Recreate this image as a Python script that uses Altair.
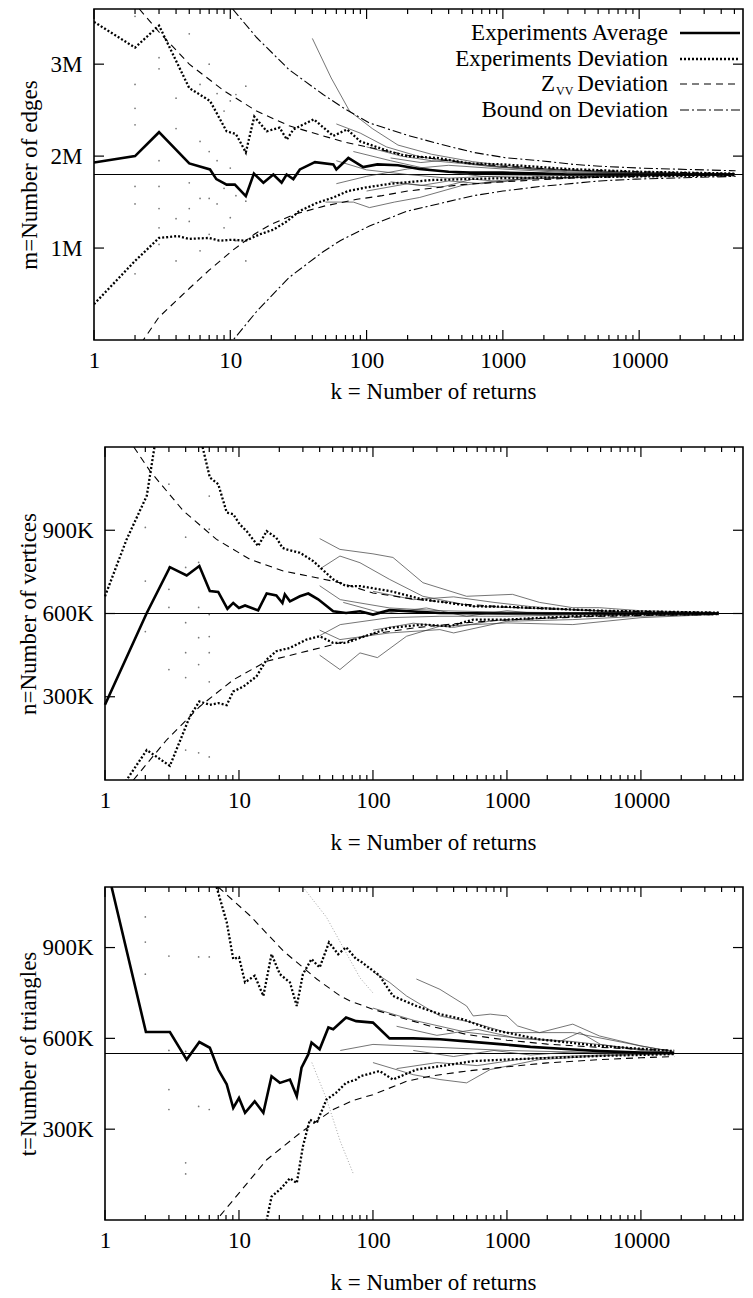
import altair as alt
import pandas as pd

FONT = "Liberation Serif"
FS = 23
XMAX = 57800

X_MAJOR = [1, 10, 100, 1000, 10000]
X_MINOR = [2, 3, 4, 5, 6, 7, 8, 9,
           20, 30, 40, 50, 60, 70, 80, 90,
           200, 300, 400, 500, 600, 700, 800, 900,
           2000, 3000, 4000, 5000, 6000, 7000, 8000, 9000,
           20000, 30000, 40000, 50000]

# ---------------- Panel 1: m = number of edges (millions) ----------------
P1_TRUE = 1.80
P1_AVG_K = [1, 2, 3, 5, 7.1, 7.9, 9.4, 10.8, 13, 14.9, 17.5, 20.7, 23.8, 25.9, 29, 32.4,
            41.8, 57, 60, 73.5, 94.5, 120, 170, 244, 400, 576, 1000, 2000, 3000, 5000,
            10000, 20000, 50000]
P1_AVG_V = [1.93, 2.0, 2.26, 1.92, 1.855, 1.75, 1.69, 1.69, 1.565, 1.81, 1.71, 1.80, 1.71,
            1.80, 1.75, 1.855, 1.935, 1.91, 1.855, 1.98, 1.88, 1.91, 1.90, 1.86, 1.83, 1.82,
            1.82, 1.81, 1.80, 1.80, 1.80, 1.80, 1.80]
P1_DEVU_K = [1, 2, 3, 5, 7.1, 9.4, 11, 13, 15, 18.5, 23, 26, 29, 41, 57, 72, 90, 148, 197,
             330, 576, 1000, 3000, 10000, 50000]
P1_DEVU_V = [3.46, 3.18, 3.42, 2.74, 2.60, 2.27, 2.24, 2.04, 2.43, 2.27, 2.31, 2.18, 2.29,
             2.40, 2.22, 2.29, 2.16, 2.05, 2.00, 1.98, 1.92, 1.91, 1.86, 1.83, 1.81]
P1_DEVL_K = [1, 2, 3, 4.1, 5, 7, 8.3, 10.3, 13, 16.5, 20.7, 26, 32, 43, 57, 73, 100, 150,
             300, 1000, 3000, 50000]
P1_DEVL_V = [0.39, 0.86, 1.11, 1.13, 1.10, 1.11, 1.08, 1.09, 1.08, 1.15, 1.20, 1.29, 1.40,
             1.49, 1.55, 1.62, 1.66, 1.70, 1.74, 1.76, 1.77, 1.79]
P1_ZU_K = [2.15, 3, 5, 9, 15.6, 27, 48, 70, 100, 200, 500, 1000, 3000, 10000, 50000]
P1_ZU_V = [3.60, 3.35, 3.0, 2.71, 2.49, 2.33, 2.22, 2.15, 2.10, 2.01, 1.93, 1.89,
           1.85, 1.83, 1.81]
P1_ZL_K = [2.0, 2.3, 3, 5, 7, 10.5, 15, 20, 30, 50, 85, 130, 200, 500, 1000, 3000, 10000, 50000]
P1_ZL_V = [-0.15, 0.0, 0.25, 0.56, 0.76, 0.98, 1.15, 1.26, 1.37, 1.46, 1.53, 1.57, 1.62,
           1.69, 1.72, 1.76, 1.78, 1.795]
P1_BU_K = [10.4, 15.6, 27, 48, 70, 105, 196, 346, 610, 1070, 1880, 3300, 5150, 10000, 51000]
P1_BU_V = [3.60, 3.29, 2.94, 2.67, 2.51, 2.36, 2.23, 2.13, 2.04, 1.98, 1.95, 1.91,
           1.89, 1.87, 1.84]
P1_BL_K = [9.5, 10.5, 15.6, 27, 48, 64, 105, 197, 610, 1000, 1880, 5150, 9500, 51000]
P1_BL_V = [-0.10, 0.0, 0.31, 0.68, 0.96, 1.08, 1.24, 1.40, 1.57, 1.62, 1.67, 1.73, 1.75, 1.78]
P1_TRACES = [
    ([40, 55, 75, 110, 170, 300, 600, 1000, 2000, 5000, 10000, 50000],
     [3.28, 2.85, 2.49, 2.30, 2.12, 2.02, 1.94, 1.90, 1.86, 1.83, 1.82, 1.805]),
    ([60, 90, 140, 250, 500, 1000, 3000, 10000, 50000],
     [2.35, 2.25, 2.10, 1.99, 1.93, 1.88, 1.85, 1.82, 1.805]),
    ([50, 80, 105, 160, 245, 500, 1000, 3000, 10000, 50000],
     [1.50, 1.50, 1.44, 1.50, 1.55, 1.68, 1.74, 1.77, 1.785, 1.795]),
    ([60, 100, 200, 400, 800, 2000, 5000, 20000, 50000],
     [1.95, 1.85, 1.80, 1.76, 1.78, 1.79, 1.795, 1.80, 1.80]),
    ([60, 100, 200, 400, 1000, 3000, 10000, 50000],
     [1.70, 1.78, 1.86, 1.90, 1.86, 1.82, 1.81, 1.80]),
    ([80, 150, 300, 700, 2000, 6000, 20000, 50000],
     [2.05, 1.95, 1.85, 1.78, 1.76, 1.78, 1.795, 1.80]),
    ([150, 250, 400, 700, 1200, 2000, 3500, 6000, 12000, 50000],
     [1.72, 1.68, 1.73, 1.70, 1.74, 1.76, 1.77, 1.785, 1.79, 1.80]),
    ([150, 250, 400, 700, 1200, 2000, 3500, 6000, 12000, 50000],
     [1.98, 1.93, 1.96, 1.90, 1.87, 1.85, 1.84, 1.82, 1.81, 1.80]),
    ([100, 200, 350, 600, 1000, 1800, 3000, 6000, 15000, 50000],
     [1.62, 1.70, 1.66, 1.75, 1.72, 1.78, 1.76, 1.79, 1.795, 1.80]),
    ([100, 180, 300, 500, 900, 1500, 3000, 7000, 20000, 50000],
     [2.10, 2.00, 1.95, 1.92, 1.88, 1.86, 1.83, 1.82, 1.81, 1.80]),
]
P1_DOT_K = [2] * 7 + [3] * 7 + [4] * 4 + [5] * 4 + [6] * 4 + [7] * 4 + [8] * 3 + [9] * 3 + [10] * 3 + [11] * 3 + [13] * 3
P1_DOT_V = [3.52, 2.78, 2.52, 2.34, 1.67, 1.48, 0.72,
            3.07, 2.95, 1.95, 1.67, 1.43, 1.22, 1.04,
            2.63, 2.30, 1.32, 0.86,
            3.33, 1.71, 1.43, 1.29,
            2.78, 2.16, 1.54, 0.97,
            3.00, 2.05, 1.54, 1.15,
            2.68, 1.95, 1.48,
            2.49, 1.65, 1.22,
            2.60, 1.87, 1.33,
            2.67, 1.57, 1.08,
            2.76, 1.51, 0.86]

# ---------------- Panel 2: n = number of vertices (thousands) ----------------
P2_TRUE = 600
P2_AVG_K = [1, 2.05, 3.05, 4.07, 5.06, 6.06, 7.0, 8.2, 9.06, 10, 11.1, 13.9, 16.1, 19, 21.1,
            22, 24, 28.5, 32.9, 39, 50.5, 63, 80, 100, 133, 316, 1000, 3000, 10000, 38000]
P2_AVG_V = [271, 602, 767, 737, 771, 681, 678, 617, 638, 620, 629, 611, 672, 665, 638, 669,
            644, 662, 672, 651, 608, 602, 608, 596, 612, 602, 600, 600, 600, 600]
# upper deviation leaves the plot at the top and comes back
P2_DEVU1_K = [1, 1.45, 2.05, 2.34]
P2_DEVU1_V = [662, 867, 1024, 1200]
P2_DEVU2_K = [5.35, 6.06, 7.0, 8.1, 9.06, 10.1, 11.4, 13.9, 16.1, 19,
              21.1, 22.5, 28.5, 35.8, 50.5, 63, 80, 133, 236, 560, 1000, 5000, 38000]
P2_DEVU2_V = [1200, 1090, 1066, 964, 958, 922, 897, 843, 897, 873,
              837, 831, 819, 789, 723, 699, 699, 681, 651, 626, 624, 610, 603]
P2_DEVL_K = [1.3, 1.45, 2.05, 3.05, 4.3, 5.06, 6.06, 7.0, 8.1, 9.06, 10.8, 13.5, 16.1, 19, 24,
             31.9, 40, 50.5, 63, 80, 133, 236, 375, 560, 1000, 3000, 10000, 38000]
P2_DEVL_V = [-60, 0, 108, 51, 229, 283, 271, 277, 270, 319, 337, 373, 434, 464, 476, 506, 518,
             494, 494, 512, 548, 560, 554, 578, 578, 590, 596, 598]
P2_ZU_K = [1.64, 2.17, 3.84, 6.8, 12.1, 21.4, 38, 56.7, 100, 200, 500, 1000, 2000, 5000,
           10000, 38000]
P2_ZU_V = [1200, 1113, 970, 867, 795, 753, 729, 711, 674, 652, 633, 623, 617, 610, 607, 604]
P2_ZL_K = [1.5, 1.63, 2.89, 5.1, 9.06, 16.1, 28.5, 50.5, 100, 200, 500, 1000, 2000, 5000,
           10000, 38000]
P2_ZL_V = [-40, 0, 145, 265, 361, 428, 458, 488, 526, 548, 567, 577, 583, 590, 593, 596]
P2_TRACES = [
    ([40, 56.7, 100, 141, 236, 500, 1100, 1750, 3100, 4900, 10000, 38000],
     [870, 831, 815, 802, 711, 662, 669, 640, 621, 621, 610, 603]),
    ([40, 56.7, 80, 133, 236, 560, 1750, 5000, 38000],
     [760, 807, 783, 723, 662, 626, 618, 608, 600]),
    ([40, 56.7, 80, 108, 178, 316, 1000, 3100, 10000, 38000],
     [450, 398, 458, 441, 518, 554, 566, 560, 585, 597]),
    ([40, 56.7, 133, 316, 400, 1000, 3100, 10000, 38000],
     [540, 506, 530, 542, 530, 572, 578, 590, 598]),
    ([40, 57, 133, 316, 1000, 5000, 38000],
     [700, 650, 620, 610, 605, 602, 600]),
    ([40, 57, 133, 316, 1000, 3000, 38000],
     [520, 560, 585, 590, 590, 595, 600]),
    ([100, 200, 400, 800, 1500, 3000, 6000, 15000, 38000],
     [680, 650, 660, 640, 625, 615, 608, 603, 600]),
    ([100, 200, 400, 800, 1500, 3000, 6000, 15000, 38000],
     [540, 565, 550, 575, 580, 588, 594, 598, 600]),
    ([60, 120, 250, 500, 1000, 2000, 5000, 38000],
     [640, 600, 620, 590, 610, 597, 603, 600]),
]
P2_DOT_K = [2] * 3 + [3] * 6 + [4] * 6 + [5] * 5 + [6] * 7
P2_DOT_V = [910, 717, 535,
            1066, 766, 687, 622, 398, 18,
            875, 766, 567, 459, 369, 108,
            784, 622, 513, 416, 98,
            1023, 904, 596, 517, 459, 354, 83]

# ---------------- Panel 3: t = number of triangles (thousands) ----------------
P3_TRUE = 550
P3_AVG_K = [1.12, 2.02, 3.05, 4.07, 5.06, 6.06, 7.0, 8.1, 9.06, 10, 11.1, 13.1, 15.2, 17.5,
            20.2, 24, 27, 29.3, 32.9, 34.8, 40, 46.5, 50.5, 63, 75, 100, 133, 200, 316, 500,
            930, 1500, 2950, 5000, 10000, 17700]
P3_AVG_V = [1100, 621, 621, 530, 588, 569, 497, 448, 370, 403, 354, 392, 354, 475, 453,
            464, 409, 503, 547, 586, 564, 636, 630, 669, 657, 652, 600, 600, 597, 590, 580, 572,
            564, 558, 553, 551]
P3_DEVU_K = [6.8, 8.1, 9.06, 10, 11.1, 13.1, 15.2, 17.5, 20.2, 24, 27, 30, 34.8, 40, 47,
             55, 63, 75, 80, 112, 141, 211, 316, 470, 750, 1750, 4900, 17700]
P3_DEVU_V = [1100, 984, 862, 868, 785, 807, 740, 878, 812, 785, 707, 812, 862, 834, 917,
             878, 901, 862, 856, 807, 740, 707, 680, 663, 630, 597, 575, 558]
P3_DEVL_K = [15, 16.1, 17.5, 20.7, 24, 27, 30, 33.8, 38, 45, 53, 63, 75, 80, 112, 141, 211,
             316, 560, 1000, 4900, 17700]
P3_DEVL_V = [-40, 0, 77, 105, 138, 122, 243, 331, 320, 398, 420, 453, 464, 475, 492, 464, 497,
             508, 525, 530, 542, 548]
P3_ZU_K = [7.0, 12.1, 21.4, 38, 57, 67, 100, 178, 265, 500, 1000, 2000, 5000, 10000, 17700]
P3_ZU_V = [1100, 1005, 889, 796, 740, 724, 696, 663, 641, 613, 594, 581, 570, 564, 561]
P3_ZL_K = [6.5, 6.8, 9.06, 16.1, 28.5, 50.5, 71, 100, 178, 265, 500, 1000, 2000, 5000, 10000, 17700]
P3_ZL_V = [-20, 0, 66, 199, 287, 365, 395, 414, 458, 475, 492, 506, 519, 530, 536, 540]
P3_TRACES = [
    ([211, 316, 500, 560, 750, 1000, 1200, 1750, 3100, 4900, 10000, 17700],
     [796, 762, 707, 674, 680, 674, 641, 619, 647, 608, 575, 556]),
    ([100, 133, 178, 316, 560, 1000, 3100, 10000, 17700],
     [820, 785, 740, 674, 652, 619, 619, 575, 555]),
    ([100, 200, 316, 500, 750, 1750, 4900, 17700],
     [520, 480, 464, 453, 497, 530, 542, 550]),
    ([57, 100, 316, 1000, 3000, 17700],
     [560, 580, 570, 560, 555, 550]),
    ([100, 200, 500, 1000, 3000, 17700],
     [700, 660, 620, 605, 590, 552]),
    ([150, 300, 600, 1200, 2500, 5000, 10000, 17700],
     [500, 520, 510, 530, 540, 545, 548, 550]),
    ([150, 300, 600, 1200, 2500, 3500, 5000, 10000, 17700],
     [640, 610, 630, 600, 590, 620, 580, 560, 552]),
    ([200, 400, 800, 1500, 3000, 6000, 17700],
     [560, 540, 560, 545, 555, 550, 550]),
]
P3_GREY_TRACES = [
    ([35, 45, 57, 71], [520, 400, 260, 155]),
    ([30, 45, 60, 80, 100], [1100, 1000, 900, 800, 750]),
]
P3_DOT_K = [2] * 3 + [3] * 4 + [4] * 3 + [5] * 2 + [6] * 2
P3_DOT_V = [1001, 918, 812,
            872, 560, 431, 365,
            557, 189, 152,
            869, 375,
            869, 365]

LEGEND_LABELS = ["Experiments Average", "Experiments Deviation", "Deviation", "Bound on Deviation"]

STYLE_AVG = dict(color="black", strokeWidth=2.6)
STYLE_DEV = dict(color="black", strokeWidth=2.3, strokeDash=[2, 2])
STYLE_Z = dict(color="black", strokeWidth=1.1, strokeDash=[7, 5])
STYLE_B = dict(color="black", strokeWidth=1.1, strokeDash=[9, 3, 2, 3])
STYLE_TRACE = dict(color="#3a3a3a", strokeWidth=0.7)
STYLE_GREY = dict(color="#9a9a9a", strokeWidth=0.9, strokeDash=[1, 2])


def frame(k, v):
    return pd.DataFrame({"k": k, "v": v})


def panel(W, H, x0, ymax, yvals, unit, ytitle, tpad, xtpad, true_v, series, traces, grey,
          dots_k, dots_v, legend=False, extra_bottom=0):
    # x0: left edge of the plotting frame inside the panel group
    xs = alt.Scale(type="log", domain=[1, XMAX], range=[x0, W], nice=False)
    ys = alt.Scale(domain=[0, ymax], nice=False, zero=False)
    x_axis = alt.Axis(values=X_MAJOR, format="d", title="k = Number of returns",
                      labelPadding=9, titlePadding=xtpad, labelFlush=False, titleX=339)
    yargs = dict(values=yvals, labelExpr="datum.value + '" + unit + "'",
                 title=ytitle, labelPadding=12, titlePadding=tpad)
    if x0:
        yargs["offset"] = -x0
    y_axis = alt.Axis(**yargs)
    X0 = alt.X("k:Q", scale=xs, axis=x_axis)
    Y0 = alt.Y("v:Q", scale=ys, axis=y_axis)
    layers = []
    # true value line
    layers.append(alt.Chart(frame([1, XMAX], [true_v, true_v])).mark_line(
        color="black", strokeWidth=1, clip=True).encode(x=X0, y=Y0))
    # scattered dots of individual experiments
    layers.append(alt.Chart(frame(dots_k, dots_v)).mark_circle(
        size=3, color="#555", opacity=0.8, clip=True).encode(x=X0, y=Y0))
    for (k, v) in grey:
        layers.append(alt.Chart(frame(k, v)).mark_line(clip=True, **STYLE_GREY).encode(x=X0, y=Y0))
    for (k, v) in traces:
        layers.append(alt.Chart(frame(k, v)).mark_line(clip=True, **STYLE_TRACE).encode(x=X0, y=Y0))
    for (k, v, st) in series:
        layers.append(alt.Chart(frame(k, v)).mark_line(clip=True, **st).encode(x=X0, y=Y0))
    one = pd.DataFrame({"a": [0]})
    # frame
    layers.append(alt.Chart(one).mark_rect(filled=False, stroke="black", strokeWidth=1.6).encode(
        x=alt.value(x0), x2=alt.value(W), y=alt.value(0), y2=alt.value(H)))
    if extra_bottom:
        # invisible spacer that reserves room below the panel
        layers.append(alt.Chart(one).mark_rule(strokeOpacity=0).encode(
            x=alt.value(x0 + 1), y=alt.value(H), y2=alt.value(H + extra_bottom)))
    # inward ticks (mirrored on all four sides)
    for vals, ln in ((X_MAJOR, 10), (X_MINOR, 5)):
        d = pd.DataFrame({"k": vals})
        layers.append(alt.Chart(d).mark_rule(color="black", strokeWidth=1.2).encode(
            x=X0, y=alt.value(H), y2=alt.value(H - ln)))
        layers.append(alt.Chart(d).mark_rule(color="black", strokeWidth=1.2).encode(
            x=X0, y=alt.value(0), y2=alt.value(ln)))
    dy = pd.DataFrame({"v": yvals})
    layers.append(alt.Chart(dy).mark_rule(color="black", strokeWidth=1.2).encode(
        y=Y0, x=alt.value(x0), x2=alt.value(x0 + 10)))
    layers.append(alt.Chart(dy).mark_rule(color="black", strokeWidth=1.2).encode(
        y=Y0, x=alt.value(W - 10), x2=alt.value(W)))
    if legend:
        rows = [24, 50, 75, 101]
        styles = [STYLE_AVG, STYLE_DEV, STYLE_Z, STYLE_B]
        xr = 574
        for i, (lab, st, yy) in enumerate(zip(LEGEND_LABELS, styles, rows)):
            layers.append(alt.Chart(one).mark_text(
                text=lab, align="right", baseline="middle", font=FONT, fontSize=FS,
                color="black").encode(x=alt.value(xr), y=alt.value(yy)))
            layers.append(alt.Chart(one).mark_rule(**st).encode(
                x=alt.value(xr + 12), x2=alt.value(xr + 72), y=alt.value(yy)))
        layers.append(alt.Chart(one).mark_text(
            text="Z", align="right", baseline="middle", font=FONT, fontSize=FS,
            color="black").encode(x=alt.value(xr - 113), y=alt.value(rows[2])))
        layers.append(alt.Chart(one).mark_text(
            text="VV", align="left", baseline="middle", font=FONT, fontSize=12,
            color="black").encode(x=alt.value(xr - 112), y=alt.value(rows[2] + 7)))
    return alt.layer(*layers).properties(width=W, height=H)


PW = 649
p1 = panel(PW, 331, 0, 3.6, [1, 2, 3], "M", "m=Number of edges", 9, 8, P1_TRUE,
           [(P1_BU_K, P1_BU_V, STYLE_B), (P1_BL_K, P1_BL_V, STYLE_B),
            (P1_ZU_K, P1_ZU_V, STYLE_Z), (P1_ZL_K, P1_ZL_V, STYLE_Z),
            (P1_DEVU_K, P1_DEVU_V, STYLE_DEV), (P1_DEVL_K, P1_DEVL_V, STYLE_DEV),
            (P1_AVG_K, P1_AVG_V, STYLE_AVG)],
           P1_TRACES, [], P1_DOT_K, P1_DOT_V, legend=True, extra_bottom=74)
p2 = panel(PW, 333, 11, 1200, [300, 600, 900], "K", "n=Number of vertices", 1, 19, P2_TRUE,
           [(P2_ZU_K, P2_ZU_V, STYLE_Z), (P2_ZL_K, P2_ZL_V, STYLE_Z),
            (P2_DEVU1_K, P2_DEVU1_V, STYLE_DEV), (P2_DEVU2_K, P2_DEVU2_V, STYLE_DEV),
            (P2_DEVL_K, P2_DEVL_V, STYLE_DEV),
            (P2_AVG_K, P2_AVG_V, STYLE_AVG)],
           P2_TRACES, [], P2_DOT_K, P2_DOT_V)
p3 = panel(PW, 333, 11, 1100, [300, 600, 900], "K", "t=Number of triangles", 1, 19, P3_TRUE,
           [(P3_ZU_K, P3_ZU_V, STYLE_Z), (P3_ZL_K, P3_ZL_V, STYLE_Z),
            (P3_DEVU_K, P3_DEVU_V, STYLE_DEV), (P3_DEVL_K, P3_DEVL_V, STYLE_DEV),
            (P3_AVG_K, P3_AVG_V, STYLE_AVG)],
           P3_TRACES, P3_GREY_TRACES, P3_DOT_K, P3_DOT_V)

chart = alt.vconcat(p1, p2, p3, spacing=32).properties(
    padding={"left": 9, "top": 0, "right": 0, "bottom": 0}
).configure_view(strokeOpacity=0).configure_axis(
    labelFont=FONT, titleFont=FONT, labelFontSize=FS, titleFontSize=FS,
    titleFontWeight="normal", labelColor="black", titleColor="black",
    grid=False, domain=False, ticks=False, tickSize=0
)

chart.save("out.html", embed_options={"renderer": "svg", "actions": False})
